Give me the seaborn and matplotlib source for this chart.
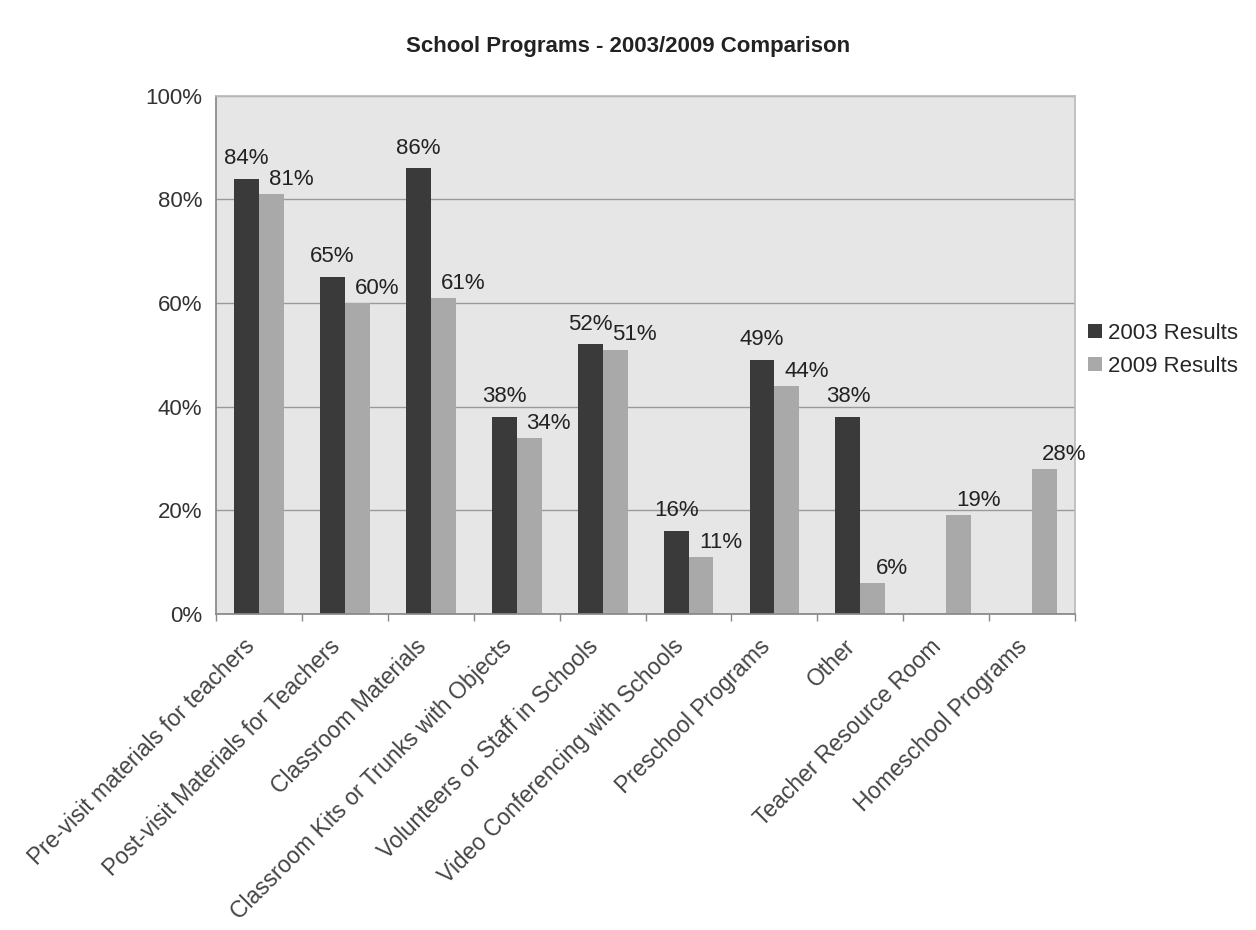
import matplotlib
matplotlib.use("Agg")
import matplotlib.pyplot as plt
import seaborn as sns
import pandas as pd
import numpy as np

# Data
categories = [
    "Pre-visit materials for teachers",
    "Post-visit Materials for Teachers",
    "Classroom Materials",
    "Classroom Kits or Trunks with Objects",
    "Volunteers or Staff in Schools",
    "Video Conferencing with Schools",
    "Preschool Programs",
    "Other",
    "Teacher Resource Room",
    "Homeschool Programs",
]
results_2003 = [84, 65, 86, 38, 52, 16, 49, 38, np.nan, np.nan]
results_2009 = [81, 60, 61, 34, 51, 11, 44, 6, 19, 28]
series_names = ["2003 Results", "2009 Results"]

df = pd.DataFrame({
    "Program": categories * 2,
    "Series": [series_names[0]] * len(categories) + [series_names[1]] * len(categories),
    "Value": results_2003 + results_2009,
})

sns.set_theme(style="white")
plt.rcParams['font.family'] = ['Liberation Sans', 'DejaVu Sans']

fig = plt.figure(figsize=(12.56, 9.30), dpi=100)
ax = fig.add_axes([0.172, 0.34, 0.684, 0.557])
ax.set_facecolor("#e6e6e6")

palette = {series_names[0]: "#3a3a3a", series_names[1]: "#a9a9a9"}
sns.barplot(data=df, x="Program", y="Value", hue="Series", palette=palette,
            width=0.58, ax=ax, saturation=1, linewidth=0, legend=True)

# value labels: 2003 centred over its bar, 2009 nudged to the right
offsets = [(0, 7), (14, 3)]
for container, (dx, dy) in zip(ax.containers, offsets):
    for bar, v in zip(container, container.datavalues):
        if np.isnan(v):
            continue
        ax.annotate(f"{v:.0f}%", (bar.get_x() + bar.get_width() / 2, bar.get_height()),
                    xytext=(dx, dy), textcoords="offset points", ha="center",
                    va="bottom", fontsize=16, color="#222222")

ax.set_ylim(0, 100)
ax.set_yticks(range(0, 101, 20))
ax.set_yticklabels([f"{t}%" for t in range(0, 101, 20)], fontsize=16, color="#333333")
ax.yaxis.grid(True, color="#9a9a9a", linewidth=1)
ax.set_axisbelow(True)
ax.set_xlabel("")
ax.set_ylabel("")
ax.set_xlim(-0.5, len(categories) - 0.5)

# slanted category labels, anchored a little left of each category centre
ax.set_xticks(np.arange(len(categories)) - 0.19, labels=categories)
plt.setp(ax.get_xticklabels(), rotation=45, ha="right", rotation_mode="anchor",
         fontsize=16.5, color="#444444")

ax.set_xticks(np.arange(-0.5, len(categories)), minor=True)
ax.tick_params(axis="x", which="major", length=0, pad=15)
ax.tick_params(axis="x", which="minor", length=5, color="#888888", bottom=True)
ax.tick_params(axis="y", length=0, pad=10)
for s in ["top", "right"]:
    ax.spines[s].set_color("#bbbbbb")
for s in ["left", "bottom"]:
    ax.spines[s].set_color("#888888")

leg = ax.legend(loc="center left", bbox_to_anchor=(1.0, 0.51), frameon=False,
                fontsize=16, handlelength=0.6, handleheight=0.6, handletextpad=0.3,
                borderaxespad=0.2, labelspacing=0.55)

fig.text(0.5, 0.95, "School Programs - 2003/2009 Comparison", ha="center",
         va="center", fontsize=16, fontweight="bold", color="#222222")

fig.savefig("out.png", dpi=100, facecolor="white")
